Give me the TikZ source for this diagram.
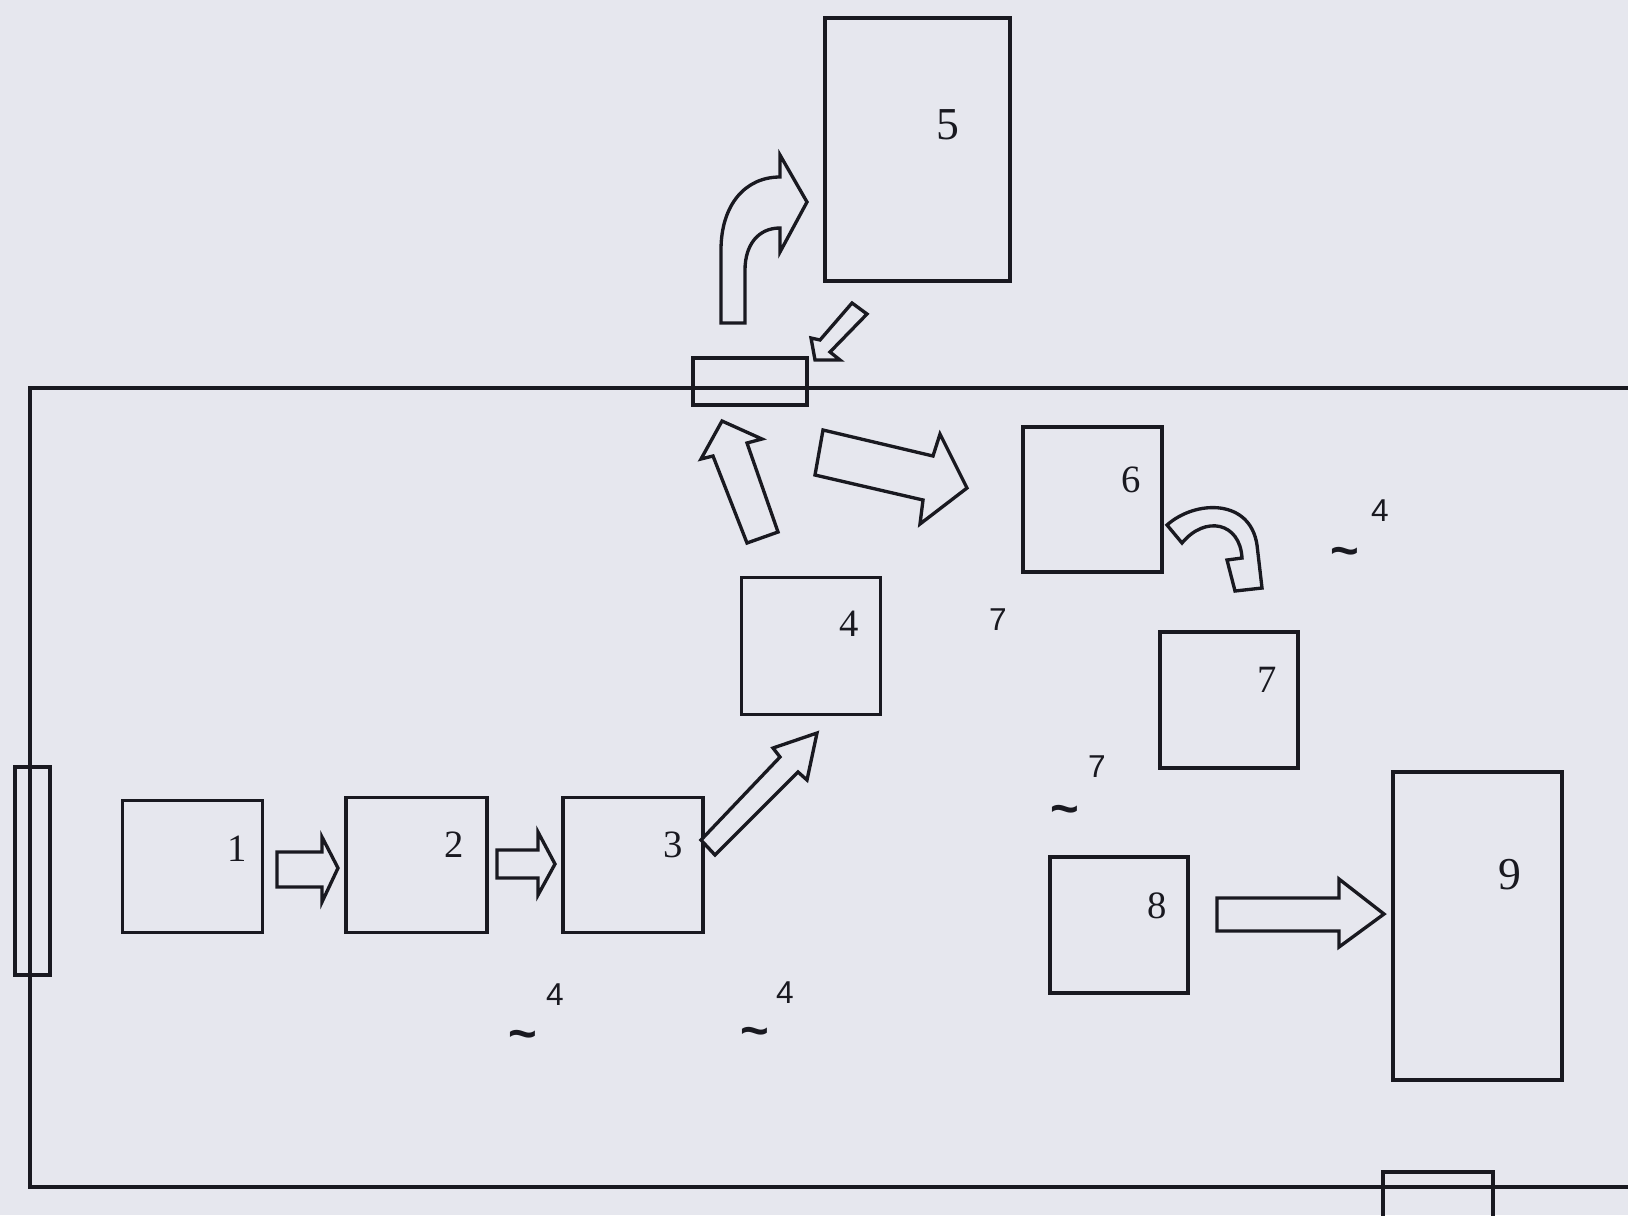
\documentclass[tikz,border=0pt]{standalone}
\usepackage{fontspec}
\newfontfamily\labsans{Liberation Sans}
\newfontfamily\labserif{Liberation Serif}
\begin{document}
\begin{tikzpicture}[x=0.02cm,y=-0.02cm,
  ln/.style={draw=inkc,line width=1.9pt},
  box/.style={ln,rectangle,inner sep=0pt,outer sep=0pt},
  blk/.style={ln,line join=miter,fill=bgc},
  lab/.style={inner sep=0pt,text=inkc,font=\labserif\fontsize{22}{24}\selectfont},
  labbig/.style={inner sep=0pt,text=inkc,font=\labserif\fontsize{26}{28}\selectfont},
  flab/.style={inner sep=0pt,text=inkc,font=\labsans\fontsize{18}{20}\selectfont},
  tld/.style={inner sep=0pt,text=inkc,font=\labsans\bfseries\fontsize{28}{28}\selectfont}]
\definecolor{bgc}{RGB}{230,231,238}
\definecolor{inkc}{RGB}{25,25,32}
\def\u{0.02cm}
\fill[bgc] (0,0) rectangle (1628,1215);
\useasboundingbox (0,0) rectangle (1628,1215);
% hall walls
\coordinate (tl) at (30,388);
\coordinate (tr) at (1628,388);
\coordinate (bl) at (30,1187);
\coordinate (br) at (1628,1187);
\draw[ln] (tr) -- (tl) -- (bl) -- (br);
% doors
\node[box,minimum width=35*\u,minimum height=208*\u] (dl) at (32.5,871) {};
\node[box,minimum width=114*\u,minimum height=47*\u] (dt) at (750,381.5) {};
\draw[ln] (1383,1240) -- (1383,1172) -- (1493,1172) -- (1493,1240);
\coordinate (db) at (1438,1172);
% redraw wall lines through doors
\draw[ln] (30,767) -- (30,975);
\draw[ln] (693,388) -- (807,388);
% boxes
\node[box,minimum width=140*\u,minimum height=132*\u] (b1) at (192.6,866.5) {};
\node[box,minimum width=141*\u,minimum height=135*\u] (b2) at (416.4,864.9) {};
\node[box,minimum width=140*\u,minimum height=135*\u] (b3) at (632.9,864.9) {};
\node[box,minimum width=139*\u,minimum height=137*\u] (b4) at (811,645.9) {};
\node[box,minimum width=185*\u,minimum height=263*\u] (b5) at (917.5,149.5) {};
\node[box,minimum width=139*\u,minimum height=145*\u] (b6) at (1092.5,499.5) {};
\node[box,minimum width=138*\u,minimum height=136*\u] (b7) at (1229,700) {};
\node[box,minimum width=138*\u,minimum height=136*\u] (b8) at (1119,925) {};
\node[box,minimum width=169*\u,minimum height=308*\u] (b9) at (1477.5,926) {};
% box labels
\node[lab] (l1) at (237,849) {1};
\node[lab] (l2) at (454,845) {2};
\node[lab] (l3) at (673,845) {3};
\node[lab] (l4) at (849,624) {4};
\node[labbig] (l5) at (948,125) {5};
\node[lab] (l6) at (1131,480) {6};
\node[lab] (l7) at (1267,680) {7};
\node[lab] (l8) at (1157,906) {8};
\node[labbig] (l9) at (1510,875) {9};
% free labels
\node[flab] (f1) at (1380,511) {4};
\node[tld] (t1) at (1345,557) {\textasciitilde};
\node[flab] (f2) at (998,620) {7};
\node[flab] (f3) at (1097,767) {7};
\node[tld] (t3) at (1065,815) {\textasciitilde};
\node[flab] (f4) at (555,995) {4};
\node[tld] (t4) at (523,1040) {\textasciitilde};
\node[flab] (f5) at (785,993) {4};
\node[tld] (t5) at (755,1037) {\textasciitilde};
% block arrows
\draw[blk] (277,852) -- (322,852) -- (322,837) -- (338,868) -- (322,902) -- (322,887) -- (277,887) -- cycle;
\draw[blk] (497,850) -- (538,850) -- (538,832) -- (555,864) -- (538,895) -- (538,878) -- (497,878) -- cycle;
\draw[blk] (701,840) -- (780,757) -- (773,748) -- (817,733) -- (807,780) -- (798,772) -- (715,855) -- cycle;
\draw[blk] (722,421) -- (762,439) -- (747,443) -- (778,532) -- (747,543) -- (713,456) -- (701,459) -- cycle;
\draw[blk] (823,430) -- (933,456) -- (940,434) -- (967,488) -- (920,524) -- (923,500) -- (815,475) -- cycle;
\draw[blk] (852,303) -- (867,314) -- (830,352) -- (840,360) -- (815,360) -- (811,338) -- (820,340) -- cycle;
\draw[blk] (1217,898) -- (1339,898) -- (1339,879) -- (1384,914) -- (1339,947) -- (1339,931) -- (1217,931) -- cycle;
% curved arrow up into 5
\draw[blk] (721,323) -- (721,250) .. controls (721,205) and (745,177) .. (780,177)
  -- (780,155) -- (807,202) -- (780,252) -- (780,228)
  .. controls (758,228) and (745,245) .. (745,270) -- (745,323) -- cycle;
% curved arrow from 6 to 7
\draw[blk] (1167,525) .. controls (1195,500) and (1250,498) .. (1257,545)
  -- (1262,588) -- (1235,591) -- (1227,560) -- (1242,558)
  .. controls (1240,522) and (1205,515) .. (1182,543) -- cycle;
\end{tikzpicture}
\end{document}
